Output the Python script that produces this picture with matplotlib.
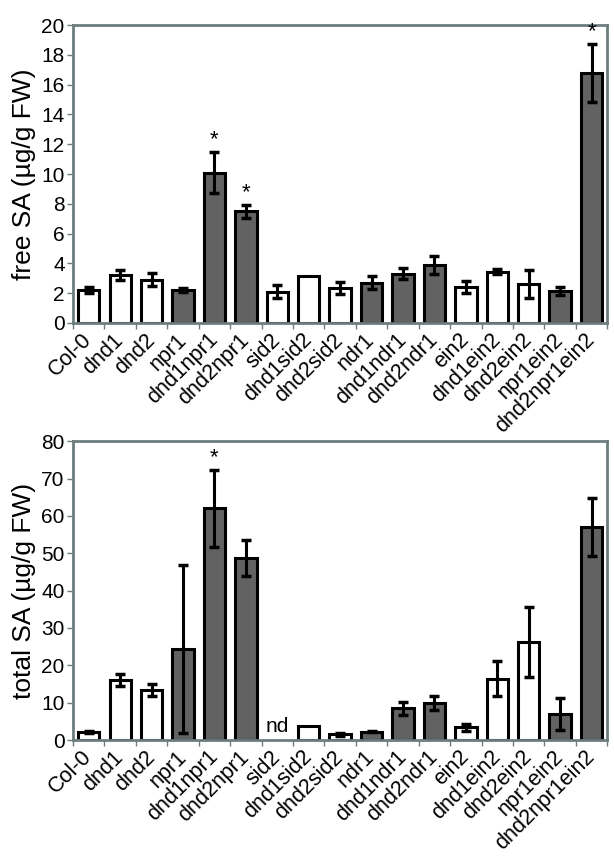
import matplotlib
matplotlib.use('Agg')
import matplotlib.pyplot as plt
import numpy as np

plt.rcParams['font.family'] = ['Liberation Sans', 'DejaVu Sans']

lines = ['Col-0', 'dnd1', 'dnd2', 'npr1', 'dnd1npr1', 'dnd2npr1', 'sid2',
         'dnd1sid2', 'dnd2sid2', 'ndr1', 'dnd1ndr1', 'dnd2ndr1', 'ein2',
         'dnd1ein2', 'dnd2ein2', 'npr1ein2', 'dnd2npr1ein2']
# True = gray bar (npr1 / ndr1 backgrounds)
gray = [False, False, False, True, True, True, False, False, False,
        True, True, True, False, False, False, True, True]

free_sa = [2.2, 3.2, 2.9, 2.2, 10.1, 7.5, 2.1, 3.15, 2.35, 2.7, 3.3, 3.9,
           2.4, 3.45, 2.6, 2.15, 16.8]
free_err = [0.22, 0.33, 0.45, 0.12, 1.4, 0.45, 0.42, 0.0, 0.42, 0.45, 0.37,
            0.6, 0.4, 0.18, 0.95, 0.25, 1.95]
free_star = ['dnd1npr1', 'dnd2npr1', 'dnd2npr1ein2']

total_sa = [2.05, 16.1, 13.4, 24.4, 62.1, 48.7, 0.0, 3.8, 1.5, 2.25, 8.5,
            9.9, 3.4, 16.4, 26.2, 6.9, 57.1]
total_err = [0.3, 1.7, 1.7, 22.4, 10.3, 4.85, 0.0, 0.0, 0.5, 0.2, 1.75,
             1.95, 0.9, 4.7, 9.45, 4.25, 7.75]
total_star = ['dnd1npr1']
not_detected = ['sid2']

spine_col = '#6d7d7e'
bar_gray = '#626262'

fig = plt.figure(figsize=(6.14, 8.56), dpi=100)
ax1 = fig.add_axes([0.119, 0.6227, 0.870, 0.348])
ax2 = fig.add_axes([0.119, 0.1355, 0.870, 0.349])

x = np.arange(len(lines))
colors = np.array([bar_gray if g else 'white' for g in gray])


def draw(ax, vals, errs, ymax, step, ylabel, stars, nds):
    vals = np.array(vals)
    errs = np.array(errs)
    has_bar = vals > 0
    has_err = errs > 0
    ax.bar(x[has_bar], vals[has_bar], width=0.68, color=colors[has_bar],
           edgecolor='black', linewidth=2.2, zorder=2)
    ax.errorbar(x[has_err], vals[has_err], yerr=errs[has_err], fmt='none',
                ecolor='black', elinewidth=2.2, capsize=3.5, capthick=2.5,
                zorder=3)
    for name in stars:
        i = lines.index(name)
        ax.text(i, vals[i] + errs[i] + ymax * 0.005, '*', ha='center',
                va='bottom', fontsize=16)
    for name in nds:
        i = lines.index(name)
        ax.text(i, ymax * 0.012, 'nd', ha='center', va='bottom', fontsize=15)
    ax.set_xlim(-0.5, len(lines) - 0.5)
    ax.set_ylim(0, ymax)
    ax.set_yticks(np.arange(0, ymax + 1, step))
    ax.set_ylabel(ylabel, fontsize=19, labelpad=4)
    ax.set_xticks(x)
    ax.set_xticklabels(lines, rotation=45, ha='right', va='center',
                       rotation_mode='anchor', fontsize=15.5)
    ax.set_xticks(np.arange(-0.5, len(lines), 1), minor=True)
    ax.tick_params(axis='x', which='major', length=0, pad=10)
    ax.tick_params(axis='x', which='minor', length=4, width=1,
                   color=spine_col)
    ax.tick_params(axis='y', length=4, width=1, color=spine_col,
                   labelsize=15, pad=2)
    for s in ax.spines.values():
        s.set_color(spine_col)
        s.set_linewidth(2)


draw(ax1, free_sa, free_err, 20, 2, 'free SA (µg/g FW)', free_star, [])
draw(ax2, total_sa, total_err, 80, 10, 'total SA (µg/g FW)', total_star,
     not_detected)

fig.savefig('out.png', dpi=100)
